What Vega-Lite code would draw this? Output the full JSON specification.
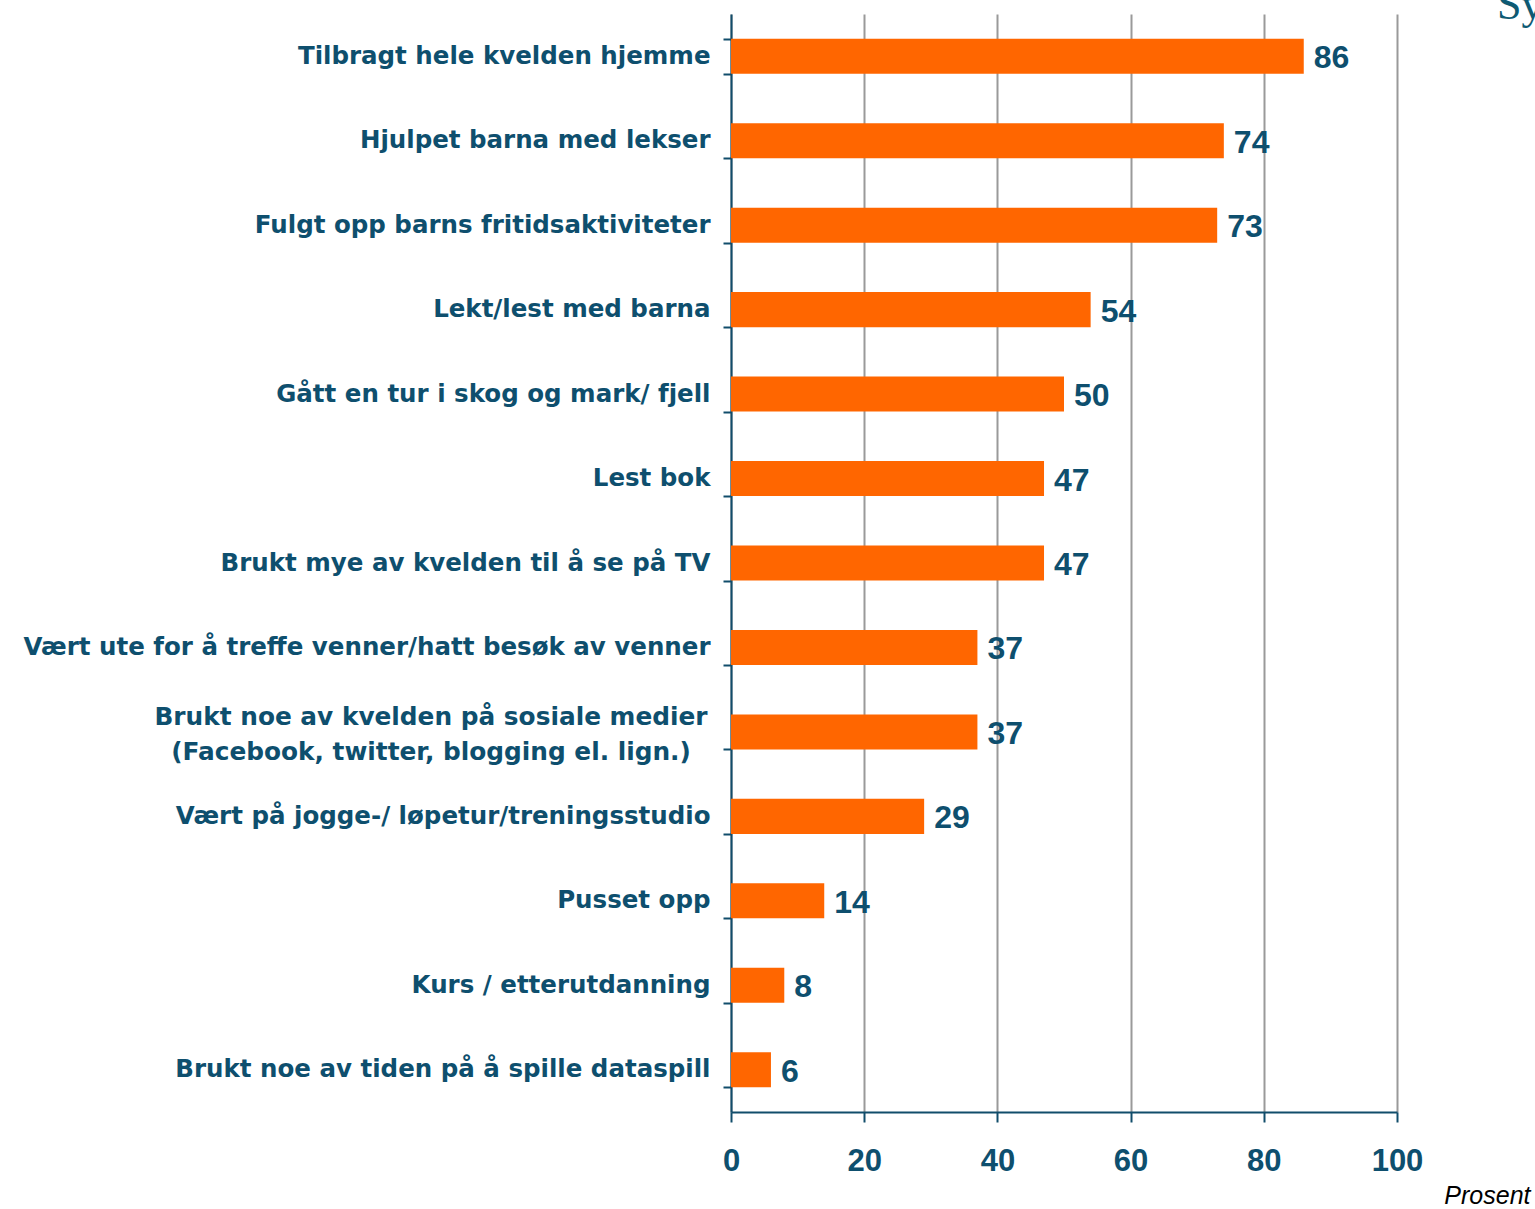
{
  "$schema": "https://vega.github.io/schema/vega-lite/v6.json",
  "width": 666,
  "height": 1098,
  "autosize": {"type": "none"},
  "padding": {"left": 731, "top": 14, "right": 138, "bottom": 97},
  "background": "white",
  "config": {"view": {"stroke": null}},
  "title": {
    "text": "Sy",
    "font": "Liberation Serif",
    "fontSize": 44,
    "fontWeight": "normal",
    "color": "#0e5a73",
    "anchor": "start",
    "frame": "group",
    "dx": 766,
    "offset": -62,
    "baseline": "alphabetic"
  },
  "data": {
    "values": [
      {"label": "Tilbragt hele kvelden hjemme", "value": 86},
      {"label": "Hjulpet barna med lekser", "value": 74},
      {"label": "Fulgt opp barns fritidsaktiviteter", "value": 73},
      {"label": "Lekt/lest med barna", "value": 54},
      {"label": "Gått en tur i skog og mark/ fjell", "value": 50},
      {"label": "Lest bok", "value": 47},
      {"label": "Brukt mye av kvelden til å se på TV", "value": 47},
      {"label": "Vært ute for å treffe venner/hatt besøk av venner", "value": 37},
      {"label": "Brukt noe av kvelden på sosiale medier|(Facebook, twitter, blogging el. lign.)", "value": 37},
      {"label": "Vært på jogge-/ løpetur/treningsstudio", "value": 29},
      {"label": "Pusset opp", "value": 14},
      {"label": "Kurs / etterutdanning", "value": 8},
      {"label": "Brukt noe av tiden på å spille dataspill", "value": 6}
    ]
  },
  "encoding": {
    "y": {
      "field": "label",
      "type": "nominal",
      "sort": null,
      "scale": {"paddingInner": 0.585, "paddingOuter": 0.2925},
      "axis": {
        "title": null,
        "labelExpr": "indexof(datum.label, '|') >= 0 ? '' : datum.label",
        "labelFont": "DejaVu Sans",
        "labelFontWeight": "bold",
        "labelFontSize": 24.5,
        "labelColor": "#0e4f6e",
        "labelPadding": 13,
        "labelLimit": 800,
        "tickBand": "extent",
        "tickSize": 8,
        "tickWidth": 2,
        "tickColor": "#114d6b",
        "domainColor": "#114d6b",
        "domainWidth": 2,
        "grid": false
      }
    },
    "x": {
      "field": "value",
      "type": "quantitative",
      "scale": {"domain": [0, 100], "nice": false},
      "axis": {
        "values": [0, 20, 40, 60, 80, 100],
        "title": "Prosent",
        "titleFont": "Liberation Sans",
        "titleFontStyle": "italic",
        "titleFontWeight": "normal",
        "titleFontSize": 25,
        "titleColor": "#000000",
        "titleAlign": "right",
        "titleAnchor": null,
        "titleX": 799,
        "titleY": 91,
        "titleBaseline": "alphabetic",
        "labelFont": "Liberation Sans",
        "labelFontWeight": "bold",
        "labelFontSize": 31,
        "labelColor": "#0e4f6e",
        "labelPadding": 24,
        "labelFlush": false,
        "tickSize": 10,
        "tickWidth": 2,
        "tickColor": "#114d6b",
        "domainColor": "#114d6b",
        "domainWidth": 2,
        "grid": true,
        "gridColor": "#9a9a9a",
        "gridWidth": 2
      }
    }
  },
  "layer": [
    {"mark": {"type": "bar", "color": "#ff6600"}},
    {
      "mark": {
        "type": "text",
        "align": "left",
        "baseline": "middle",
        "dx": 10,
        "dy": 2,
        "font": "Liberation Sans",
        "fontWeight": "bold",
        "fontSize": 32,
        "color": "#0e4f6e"
      },
      "encoding": {"text": {"field": "value", "type": "quantitative"}}
    },
    {
      "transform": [{"filter": "indexof(datum.label, '|') >= 0"}],
      "mark": {
        "type": "text",
        "align": "center",
        "baseline": "middle",
        "lineBreak": "|",
        "lineHeight": 35,
        "dx": -300,
        "dy": -14,
        "font": "DejaVu Sans",
        "fontWeight": "bold",
        "fontSize": 24.8,
        "color": "#0e4f6e"
      },
      "encoding": {
        "x": {"datum": 0},
        "text": {"field": "label", "type": "nominal"}
      }
    }
  ]
}
